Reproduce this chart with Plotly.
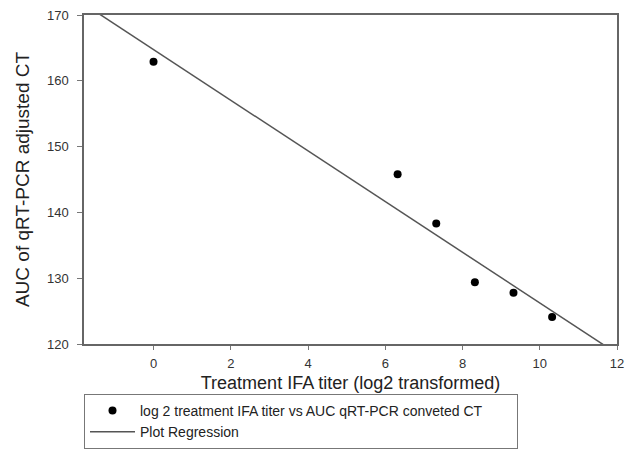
import numpy as np
import plotly.graph_objects as go

# Data
titer_log2 = [0.0, 6.32, 7.32, 8.32, 9.32, 10.32]
auc_ct = [162.9, 145.8, 138.3, 129.4, 127.8, 124.1]

x_ticks = [0, 2, 4, 6, 8, 10, 12]
y_ticks = [120, 130, 140, 150, 160, 170]
x_range = [-1.8, 12]
y_range = [120, 170]

series_name = "log 2 treatment IFA titer vs AUC qRT-PCR conveted CT"
reg_name = "Plot Regression"
x_title = "Treatment IFA titer (log2 transformed)"
y_title = "AUC of qRT-PCR adjusted CT"

# Linear regression of the data
slope, intercept = np.polyfit(titer_log2, auc_ct, 1)
reg_x = np.array(x_range)
reg_y = intercept + slope * reg_x

FONT = "Liberation Sans, Arial, sans-serif"

fig = go.Figure()
fig.add_trace(go.Scatter(
    x=titer_log2, y=auc_ct, mode="markers", name=series_name,
    marker=dict(color="black", size=8, line=dict(width=0)),
))
fig.add_trace(go.Scatter(
    x=reg_x, y=reg_y, mode="lines", name=reg_name,
    line=dict(color="#555555", width=1.5),
))

fig.update_layout(
    width=629, height=450,
    margin=dict(l=84, r=12, t=15, b=106, autoexpand=False),
    paper_bgcolor="white", plot_bgcolor="white",
    font=dict(family=FONT, color="#222222"),
    showlegend=True,
    legend=dict(
        orientation="h",
        x=0, xanchor="left", y=-0.152, yanchor="top",
        bordercolor="#777777", borderwidth=1,
        font=dict(size=14, color="#222222", family=FONT),
        itemwidth=45, tracegroupgap=0,
        entrywidth=372, entrywidthmode="pixels",
        bgcolor="white",
    ),
)
fig.update_xaxes(
    range=x_range, tickmode="array", tickvals=x_ticks,
    ticks="outside", ticklen=4, tickcolor="#777777", tickwidth=1,
    showline=True, linecolor="#666666", linewidth=1.5, mirror=True,
    showgrid=False, zeroline=False, automargin=False,
    tickfont=dict(size=13, color="#333333"),
    ticklabelstandoff=3,
    title=dict(text=x_title, font=dict(size=18, color="#222222"), standoff=6),
)
fig.update_yaxes(
    range=y_range, tickmode="array", tickvals=y_ticks,
    ticks="outside", ticklen=5, tickcolor="#777777", tickwidth=1,
    showline=True, linecolor="#666666", linewidth=1.5, mirror=True,
    showgrid=False, zeroline=False, automargin=False,
    tickfont=dict(size=13, color="#333333"),
    ticklabelstandoff=6,
    title=dict(text=y_title, font=dict(size=19, color="#222222"), standoff=12),
)

fig.write_html("out.html")
